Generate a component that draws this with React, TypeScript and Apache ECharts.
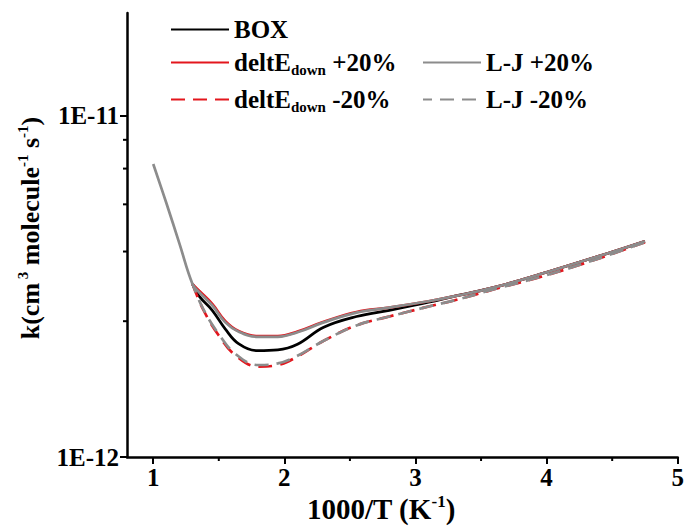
import React, { useEffect, useRef } from 'react';
import * as echarts from 'echarts';

// ---- data (k in cm3 molecule-1 s-1 vs 1000/T) ----
const xLJPlus = [1.0, 1.1, 1.2, 1.3, 1.35, 1.45, 1.55, 1.65, 1.8, 1.95, 2.1, 2.3, 2.55, 2.8, 3.1, 3.3, 3.6, 4.0, 4.4, 4.75];
const ljPlus = [7.22e-12, 5.55e-12, 4.22e-12, 3.21e-12, 3.04e-12, 2.78e-12, 2.48e-12, 2.33e-12, 2.25e-12, 2.25e-12, 2.32e-12, 2.48e-12, 2.65e-12, 2.74e-12, 2.86e-12, 2.96e-12, 3.14e-12, 3.48e-12, 3.88e-12, 4.29e-12];

const xMain = [1.3, 1.35, 1.45, 1.55, 1.65, 1.8, 1.95, 2.1, 2.3, 2.55, 2.8, 3.1, 3.3, 3.6, 4.0, 4.4, 4.75];
const box = [3.21e-12, 2.96e-12, 2.69e-12, 2.37e-12, 2.15e-12, 2.05e-12, 2.06e-12, 2.14e-12, 2.40e-12, 2.58e-12, 2.69e-12, 2.84e-12, 2.96e-12, 3.14e-12, 3.48e-12, 3.88e-12, 4.29e-12];
const deltPlus = [3.21e-12, 3.07e-12, 2.81e-12, 2.50e-12, 2.34e-12, 2.26e-12, 2.26e-12, 2.33e-12, 2.49e-12, 2.66e-12, 2.74e-12, 2.86e-12, 2.96e-12, 3.14e-12, 3.48e-12, 3.88e-12, 4.29e-12];

const xMinus = [1.3, 1.38, 1.5, 1.63, 1.8, 1.95, 2.1, 2.3, 2.55, 2.8, 3.1, 3.3, 3.6, 4.0, 4.4, 4.75];
const deltMinus = [3.21e-12, 2.71e-12, 2.27e-12, 1.98e-12, 1.84e-12, 1.86e-12, 1.97e-12, 2.19e-12, 2.43e-12, 2.58e-12, 2.76e-12, 2.88e-12, 3.10e-12, 3.41e-12, 3.82e-12, 4.26e-12];
const ljMinus = [3.21e-12, 2.72e-12, 2.29e-12, 2.00e-12, 1.86e-12, 1.88e-12, 1.98e-12, 2.19e-12, 2.43e-12, 2.58e-12, 2.76e-12, 2.88e-12, 3.10e-12, 3.41e-12, 3.82e-12, 4.26e-12];

const xTicks = [1, 2, 3, 4, 5];
const xMinorTicks = [1.5, 2.5, 3.5, 4.5];
const yTicks = [1e-12, 1e-11];
const yMinorTicks = [2.5e-12, 4e-12, 5.5e-12, 7e-12, 8.5e-12];

const X_MIN = 0.8;
const X_MAX = 5;
const Y_MIN = 1e-12;
const Y_MAX = 2e-11;

const zip = (xs: number[], ys: number[]) => xs.map((x, i) => [x, ys[i]]);

const FONT = 'Liberation Serif';
const RED = '#e3161d';
const GRAY = '#8c8c8c';

export default function App() {
  const ref = useRef<HTMLDivElement>(null);
  useEffect(() => {
    const chart = echarts.init(ref.current!, null, { renderer: 'svg' });
    const base = { fontFamily: FONT, fontWeight: 'bold' as const, color: '#000' };
    const legendRich = {
      b: { ...base, fontSize: 25, lineHeight: 28 },
      s: { ...base, fontSize: 15, verticalAlign: 'top' as const, padding: [15, 0, 0, 0] },
    };
    const supRich = {
      b: { ...base, fontSize: 26, lineHeight: 29 },
      sup: { ...base, fontSize: 15, verticalAlign: 'top' as const, lineHeight: 16 },
    };
    const xNameRich = {
      b: { ...base, fontSize: 29, lineHeight: 32 },
      sup: { ...base, fontSize: 17, verticalAlign: 'top' as const, lineHeight: 18 },
    };
    const legendNames: Record<string, string> = {
      'BOX': '{b|BOX}',
      'deltEdown +20%': '{b|deltE}{s|down}{b| +20%}',
      'deltEdown -20%': '{b|deltE}{s|down}{b| -20%}',
      'L-J +20%': '{b|L-J +20%}',
      'L-J -20%': '{b|L-J -20%}',
    };
    const mkLegend = (name: string, left: number, top: number) => ({
      data: [name],
      left,
      top,
      padding: 0,
      itemWidth: 58,
      itemHeight: 14,
      selectedMode: false,
      itemStyle: { opacity: 0, borderWidth: 0 },
      formatter: (n: string) => legendNames[n],
      textStyle: { rich: legendRich },
    });
    const lineSeries = (name: string, data: number[][], color: string, dashed: boolean, dashOffset = 0, z = 2) => ({
      name,
      type: 'line',
      data,
      smooth: 0.4,
      symbol: 'none',
      z,
      lineStyle: { color, width: 2.7, type: dashed ? [14, 8] : 'solid', dashOffset, cap: 'butt' },
      itemStyle: { color },
    });
    const tickSeries = (data: number[][], horizontal: boolean) => ({
      type: 'custom',
      silent: true,
      clip: false,
      z: 10,
      data,
      renderItem: (_p: any, api: any) => {
        const p = api.coord([api.value(0), api.value(1)]);
        const shape = horizontal
          ? { x1: p[0] - 4, y1: p[1], x2: p[0], y2: p[1] }
          : { x1: p[0], y1: p[1], x2: p[0], y2: p[1] + 4 };
        return { type: 'line', shape, style: { stroke: '#000', lineWidth: 2 } };
      },
    });

    chart.setOption({
      animation: false,
      backgroundColor: '#ffffff',
      grid: { left: 127, right: 7, top: 13, bottom: 70 },
      xAxis: {
        type: 'value',
        min: X_MIN,
        max: X_MAX,
        splitLine: { show: false },
        axisLine: { lineStyle: { color: '#000', width: 2.5 } },
        axisTick: { customValues: xTicks, length: 7, lineStyle: { color: '#000', width: 2 } },
        axisLabel: { customValues: xTicks, margin: 8, fontFamily: FONT, fontWeight: 'bold', fontSize: 25, color: '#000' },
      },
      yAxis: {
        type: 'log',
        min: Y_MIN,
        max: Y_MAX,
        splitLine: { show: false },
        axisLine: { lineStyle: { color: '#000', width: 2.5 } },
        axisTick: { customValues: yTicks, length: 7, lineStyle: { color: '#000', width: 2 } },
        axisLabel: {
          customValues: yTicks,
          margin: 8,
          fontFamily: FONT,
          fontWeight: 'bold',
          fontSize: 25,
          color: '#000',
          formatter: (v: number) => '1E' + Math.round(Math.log10(v)),
        },
      },
      legend: [
        mkLegend('BOX', 170, 17),
        mkLegend('deltEdown +20%', 170, 50),
        mkLegend('deltEdown -20%', 170, 87),
        mkLegend('L-J +20%', 422, 50),
        mkLegend('L-J -20%', 422, 87),
      ],
      graphic: [
        {
          type: 'text',
          x: 30,
          y: 228,
          rotation: Math.PI / 2,
          style: {
            text: '{b|k(cm}{sup| 3}{b| molecule}{sup|-1}{b| s}{sup|-1}{b|)}',
            rich: supRich,
            align: 'center',
            verticalAlign: 'middle',
          },
        },
        {
          type: 'text',
          x: 381,
          y: 509,
          style: {
            text: '{b|1000/T (K}{sup|-1}{b|)}',
            rich: xNameRich,
            align: 'center',
            verticalAlign: 'middle',
          },
        },
      ],
      series: [
        lineSeries('BOX', zip(xMain, box), '#000000', false, 0, 2),
        lineSeries('deltEdown +20%', zip(xMain, deltPlus), RED, false, 0, 3),
        lineSeries('deltEdown -20%', zip(xMinus, deltMinus), RED, true, 0, 3),
        lineSeries('L-J +20%', zip(xLJPlus, ljPlus), GRAY, false, 0, 4),
        lineSeries('L-J -20%', zip(xMinus, ljMinus), GRAY, true, 5, 4),
        tickSeries(yMinorTicks.map((v) => [X_MIN, v]), true),
        tickSeries(xMinorTicks.map((v) => [v, Y_MIN]), false),
      ],
    });
    return () => chart.dispose();
  }, []);
  return <div ref={ref} style={{ position: 'absolute', left: 0, top: 0, width: 687, height: 527 }} />;
}
